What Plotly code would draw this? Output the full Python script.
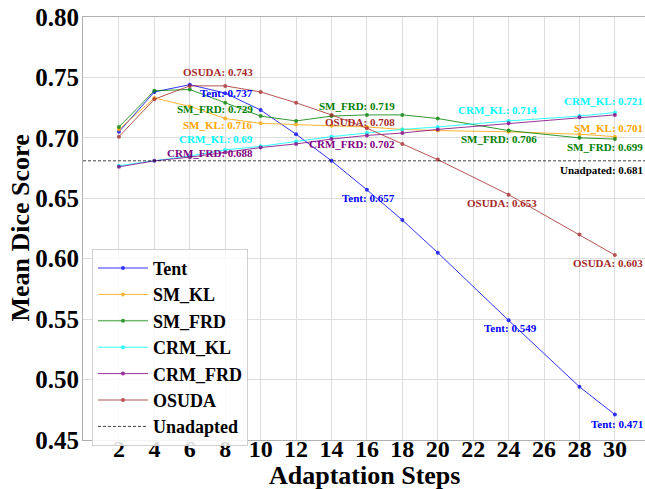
import plotly.graph_objects as go

steps = [2, 4, 6, 8, 10, 12, 14, 16, 18, 20, 24, 28, 30]
tent = [0.705, 0.738, 0.744, 0.737, 0.723, 0.703, 0.681, 0.657, 0.632, 0.605, 0.549, 0.494, 0.471]
sm_kl = [0.707, 0.733, 0.726, 0.716, 0.712, 0.711, 0.710, 0.709, 0.707, 0.706, 0.705, 0.703, 0.701]
sm_frd = [0.709, 0.739, 0.740, 0.729, 0.718, 0.714, 0.718, 0.719, 0.719, 0.716, 0.706, 0.700, 0.699]
crm_kl = [0.677, 0.681, 0.685, 0.690, 0.693, 0.697, 0.701, 0.704, 0.707, 0.709, 0.714, 0.718, 0.721]
crm_frd = [0.676, 0.681, 0.684, 0.688, 0.692, 0.695, 0.699, 0.702, 0.704, 0.707, 0.712, 0.717, 0.719]
osuda = [0.701, 0.732, 0.743, 0.743, 0.738, 0.729, 0.719, 0.708, 0.695, 0.682, 0.653, 0.620, 0.603]
unadapted = 0.681

series_names = ["Tent", "SM_KL", "SM_FRD", "CRM_KL", "CRM_FRD", "OSUDA"]
series_values = [tent, sm_kl, sm_frd, crm_kl, crm_frd, osuda]
series_colors = ["#0000ff", "#ffa500", "#008000", "#00ffff", "#800080", "#a52a2a"]

x_ticks = [2, 4, 6, 8, 10, 12, 14, 16, 18, 20, 22, 24, 26, 28, 30]
y_ticks = [0.45, 0.50, 0.55, 0.60, 0.65, 0.70, 0.75, 0.80]

x_title = "Adaptation Steps"
y_title = "Mean Dice Score"

# (series, step, vertical pixel shift of the label)
label_specs = [
    ("OSUDA", 8, 14), ("Tent", 8, 0), ("SM_FRD", 8, -6), ("SM_KL", 8, -6),
    ("CRM_KL", 8, 11), ("CRM_FRD", 8, -1),
    ("SM_FRD", 16, 9), ("OSUDA", 16, 6), ("CRM_FRD", 16, -9), ("Tent", 16, -8),
    ("CRM_KL", 24, 11), ("SM_FRD", 24, -8), ("OSUDA", 24, -8), ("Tent", 24, -8),
    ("CRM_KL", 30, 11), ("SM_KL", 30, 9), ("SM_FRD", 30, -8), ("OSUDA", 30, -8), ("Tent", 30, -9),
]

FONT = "Liberation Serif, Times New Roman, serif"

fig = go.Figure()
for name, vals, col in zip(series_names, series_values, series_colors):
    fig.add_trace(go.Scatter(
        x=steps, y=vals, name=name, mode="lines+markers",
        line=dict(color=col, width=1), marker=dict(color=col, size=4),
        opacity=0.8,
    ))

fig.add_shape(type="line", xref="paper", x0=0, x1=1, yref="y", y0=unadapted, y1=unadapted,
              line=dict(color="rgba(0,0,0,0.75)", width=1, dash="3px,2px"),
              showlegend=True, name="Unadapted", layer="above")

lookup = dict(zip(series_names, series_values))
colmap = dict(zip(series_names, series_colors))
for name, st, dy in label_specs:
    v = lookup[name][steps.index(st)]
    fig.add_annotation(x=st, y=v, text=f"{name}: {v}", showarrow=False,
                       xanchor="right", yanchor="middle", xshift=30, yshift=dy,
                       font=dict(family=FONT, size=11, color=colmap[name], weight="bold"))
fig.add_annotation(x=30, y=unadapted, text=f"Unadpated: {unadapted}", showarrow=False,
                   xanchor="right", yanchor="middle", xshift=30, yshift=-9,
                   font=dict(family=FONT, size=11, color="black", weight="bold"))

# axis titles
fig.add_annotation(xref="paper", yref="paper", x=0.5, y=0, yshift=-35, text=x_title,
                   showarrow=False, xanchor="center", yanchor="middle",
                   font=dict(family=FONT, size=26, weight="bold", color="black"))
fig.add_annotation(xref="paper", yref="paper", x=0, xshift=-63, y=0.5, text=y_title,
                   showarrow=False, textangle=-90, xanchor="center", yanchor="middle",
                   font=dict(family=FONT, size=26, weight="bold", color="black"))

fig.update_layout(
    width=645, height=489,
    margin=dict(l=83, r=0, t=17, b=49),
    plot_bgcolor="white", paper_bgcolor="white",
    font=dict(family=FONT, color="black"),
    legend=dict(x=0.016, y=0.452, xanchor="left", yanchor="top",
                bgcolor="rgba(255,255,255,0.85)", bordercolor="#d0d0d0", borderwidth=1,
                font=dict(family=FONT, size=18, weight="bold"), tracegroupgap=0,
                itemwidth=50),
    showlegend=True,
)
fig.update_xaxes(range=[-0.03, 31.7], tickvals=x_ticks, ticktext=[str(t) for t in x_ticks],
                 showgrid=True, gridcolor="#dddddd", gridwidth=1,
                 showline=True, linecolor="#b0b0b0", mirror=True, zeroline=False,
                 tickfont=dict(family=FONT, size=24, weight="bold"),
                 ticklabelstandoff=-13, automargin=False)
fig.update_yaxes(range=[0.45, 0.80], tickvals=y_ticks, tickformat=".2f",
                 showgrid=True, gridcolor="#dddddd", gridwidth=1,
                 showline=True, linecolor="#b0b0b0", mirror=True, zeroline=False,
                 tickfont=dict(family=FONT, size=25, weight="bold"),
                 ticklabelstandoff=-2, automargin=False)

fig.write_html("out.html", config={"displayModeBar": False},
               post_script="document.body.style.margin='0';")
